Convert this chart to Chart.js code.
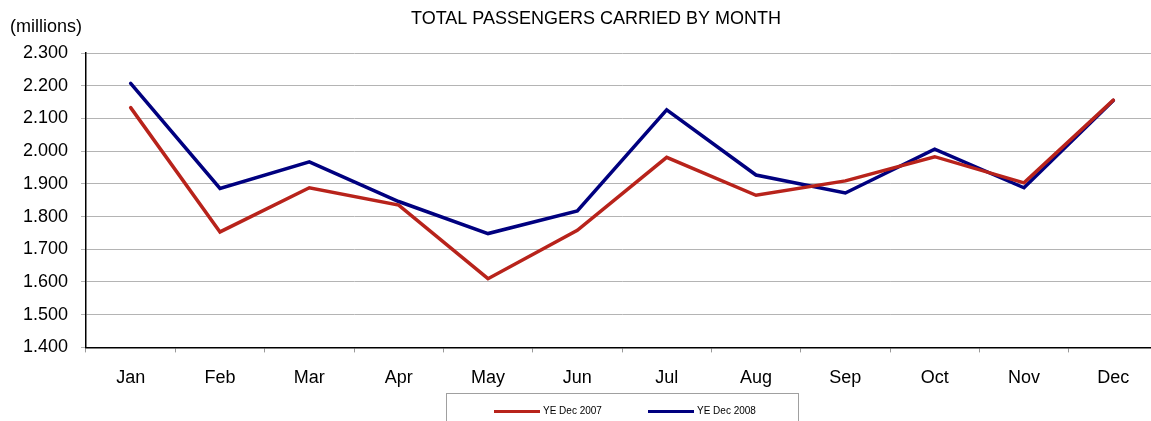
<!DOCTYPE html>
<html>
<head>
<meta charset="utf-8">
<script src="https://cdn.jsdelivr.net/npm/chart.js@4"></script>
<style>
  html, body { margin: 0; padding: 0; background: #fff; overflow: hidden; }
  #wrap { width: 1158px; height: 421px; position: relative; }
</style>
</head>
<body>
<div id="wrap"><canvas id="chart"></canvas></div>
<script>
const months = ['Jan', 'Feb', 'Mar', 'Apr', 'May', 'Jun', 'Jul', 'Aug', 'Sep', 'Oct', 'Nov', 'Dec'];
const ye2007 = [2.133, 1.753, 1.888, 1.835, 1.610, 1.758, 1.981, 1.865, 1.909, 1.983, 1.903, 2.156];
const ye2008 = [2.207, 1.886, 1.967, 1.846, 1.748, 1.817, 2.126, 1.927, 1.872, 2.006, 1.888, 2.155];
const seriesNames = ['YE Dec 2007', 'YE Dec 2008'];
const chartTitle = 'TOTAL PASSENGERS CARRIED BY MONTH';
const unitLabel = '(millions)';

const fontfam = '"Liberation Sans", Arial, sans-serif';

// title, "(millions)" caption and the boxed legend below the axis
const extras = {
    id: 'extras',
    afterDraw(chart) {
        const ctx = chart.ctx;
        const area = chart.chartArea;
        ctx.save();
        ctx.fillStyle = '#000';
        ctx.textBaseline = 'middle';

        ctx.font = '18px ' + fontfam;
        ctx.textAlign = 'center';
        ctx.fillText(chartTitle, 596, area.top - 34);

        ctx.textAlign = 'left';
        ctx.fillText(unitLabel, 10, area.top - 26);

        const cx = (area.left + area.right) / 2;
        const boxTop = area.bottom + 46;
        ctx.strokeStyle = '#a0a0a0';
        ctx.lineWidth = 1;
        ctx.strokeRect(Math.round(cx - 176) + 0.5, Math.round(boxTop) + 0.5, 352, 40);

        const ty = area.bottom + 64;
        let x = cx - 128;
        ctx.font = '10px ' + fontfam;
        chart.data.datasets.forEach(ds => {
            ctx.strokeStyle = ds.borderColor;
            ctx.lineWidth = 3;
            ctx.beginPath();
            ctx.moveTo(x, ty);
            ctx.lineTo(x + 46, ty);
            ctx.stroke();
            ctx.fillStyle = '#000';
            ctx.fillText(ds.label, x + 49, ty);
            x += 154;
        });
        ctx.restore();
    }
};

new Chart(document.getElementById('chart'), {
    type: 'line',
    data: {
        labels: months,
        datasets: [
            { label: seriesNames[0], data: ye2007, borderColor: '#b8231b', backgroundColor: '#b8231b' },
            { label: seriesNames[1], data: ye2008, borderColor: '#00007f', backgroundColor: '#00007f' }
        ]
    },
    options: {
        responsive: true,
        maintainAspectRatio: false,
        animation: false,
        events: [],
        layout: { padding: { left: 0, right: 0, top: 53, bottom: 17 } },
        elements: {
            line: { borderWidth: 3.5, tension: 0, borderCapStyle: 'round', borderJoinStyle: 'miter' },
            point: { radius: 0 }
        },
        scales: {
            x: {
                offset: true,
                grid: { offset: true, drawOnChartArea: false, tickLength: 5, color: '#999' },
                border: { color: '#000', width: 1.5 },
                ticks: { padding: 15, color: '#000', font: { family: fontfam, size: 18 } }
            },
            y: {
                min: 1.4,
                max: 2.3,
                afterFit: s => { s.width = 86; },
                grid: { color: '#b4b4b4', tickLength: 5 },
                border: { color: '#000', width: 1.5 },
                ticks: {
                    stepSize: 0.1,
                    padding: 13,
                    color: '#000',
                    font: { family: fontfam, size: 18 },
                    callback: v => v.toFixed(3)
                }
            }
        },
        plugins: {
            legend: { display: false },
            tooltip: { enabled: false },
            title: { display: false }
        }
    },
    plugins: [extras]
});
</script>
</body>
</html>
